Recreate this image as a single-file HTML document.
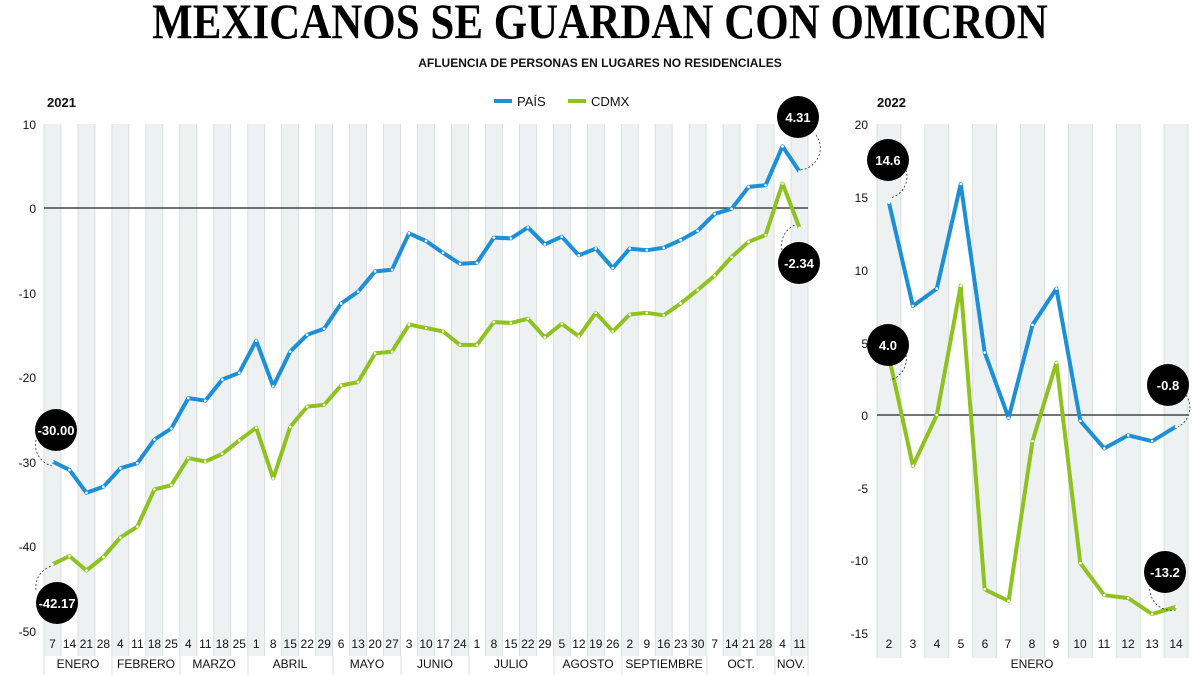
<!DOCTYPE html>
<html><head><meta charset="utf-8"><style>
body{margin:0;background:#fff;}
svg{display:block;font-family:"Liberation Sans",sans-serif;}
.t{font-size:12px;fill:#111;text-anchor:middle}
.y{font-size:12px;fill:#111;text-anchor:end}
.m{font-size:12px;fill:#111;text-anchor:middle}
.c{font-size:13px;font-weight:bold;fill:#fff;text-anchor:middle}
</style></head><body>
<svg id="s" width="1200" height="675" viewBox="0 0 1200 675">
<g id="bg"></g>
<text x="600" y="38" text-anchor="middle" font-family="Liberation Serif,serif" font-weight="bold" font-size="50" transform="translate(600,0) scale(0.86,1) translate(-600,0)" fill="#000">MEXICANOS SE GUARDAN CON OMICRON</text>
<text x="600" y="67" text-anchor="middle" font-size="12" font-weight="bold" fill="#111">AFLUENCIA DE PERSONAS EN LUGARES NO RESIDENCIALES</text>
<text x="47" y="107" font-size="13" font-weight="bold" fill="#111">2021</text>
<text x="877" y="107" font-size="13" font-weight="bold" fill="#111">2022</text>
<line x1="494" y1="101" x2="512" y2="101" stroke="#1b8fd8" stroke-width="4"/>
<text x="517" y="106" font-size="13" fill="#111">PAÍS</text>
<line x1="568" y1="101" x2="586" y2="101" stroke="#8dc21f" stroke-width="4"/>
<text x="591" y="106" font-size="13" fill="#111">CDMX</text>
<text class="y" x="36" y="129">10</text>
<text class="y" x="36" y="213">0</text>
<text class="y" x="36" y="298">-10</text>
<text class="y" x="36" y="382">-20</text>
<text class="y" x="36" y="467">-30</text>
<text class="y" x="36" y="551">-40</text>
<text class="y" x="36" y="636">-50</text>
<text class="y" x="868" y="129">20</text>
<text class="y" x="868" y="202">15</text>
<text class="y" x="868" y="275">10</text>
<text class="y" x="868" y="348">5</text>
<text class="y" x="868" y="420">0</text>
<text class="y" x="868" y="493">-5</text>
<text class="y" x="868" y="565">-10</text>
<text class="y" x="868" y="638">-15</text>
<g id="days">
<text class="t" x="52.5" y="648">7</text><text class="t" x="69.5" y="648">14</text><text class="t" x="86.4" y="648">21</text><text class="t" x="103.4" y="648">28</text>
<text class="t" x="120.4" y="648">4</text><text class="t" x="137.4" y="648">11</text><text class="t" x="154.4" y="648">18</text><text class="t" x="171.3" y="648">25</text>
<text class="t" x="188.3" y="648">4</text><text class="t" x="205.3" y="648">11</text><text class="t" x="222.3" y="648">18</text><text class="t" x="239.3" y="648">25</text>
<text class="t" x="256.2" y="648">1</text><text class="t" x="273.2" y="648">8</text><text class="t" x="290.2" y="648">15</text><text class="t" x="307.2" y="648">22</text><text class="t" x="324.2" y="648">29</text>
<text class="t" x="341.1" y="648">6</text><text class="t" x="358.1" y="648">13</text><text class="t" x="375.1" y="648">20</text><text class="t" x="392.1" y="648">27</text>
<text class="t" x="409.1" y="648">3</text><text class="t" x="426" y="648">10</text><text class="t" x="443" y="648">17</text><text class="t" x="460" y="648">24</text>
<text class="t" x="477" y="648">1</text><text class="t" x="494" y="648">8</text><text class="t" x="510.9" y="648">15</text><text class="t" x="527.9" y="648">22</text><text class="t" x="544.9" y="648">29</text>
<text class="t" x="561.9" y="648">5</text><text class="t" x="578.9" y="648">12</text><text class="t" x="595.8" y="648">19</text><text class="t" x="612.8" y="648">26</text>
<text class="t" x="629.8" y="648">2</text><text class="t" x="646.8" y="648">9</text><text class="t" x="663.8" y="648">16</text><text class="t" x="680.7" y="648">23</text><text class="t" x="697.7" y="648">30</text>
<text class="t" x="714.7" y="648">7</text><text class="t" x="731.7" y="648">14</text><text class="t" x="748.7" y="648">21</text><text class="t" x="765.6" y="648">28</text>
<text class="t" x="782.6" y="648">4</text><text class="t" x="799.6" y="648">11</text>
<text class="t" x="889" y="648">2</text><text class="t" x="913" y="648">3</text><text class="t" x="937" y="648">4</text><text class="t" x="961" y="648">5</text><text class="t" x="985" y="648">6</text><text class="t" x="1008" y="648">7</text><text class="t" x="1032" y="648">8</text><text class="t" x="1056" y="648">9</text><text class="t" x="1080" y="648">10</text><text class="t" x="1104" y="648">11</text><text class="t" x="1128" y="648">12</text><text class="t" x="1152" y="648">13</text><text class="t" x="1176" y="648">14</text>
</g>
<text class="m" x="78" y="668">ENERO</text><text class="m" x="146" y="668">FEBRERO</text><text class="m" x="214" y="668">MARZO</text><text class="m" x="290" y="668">ABRIL</text><text class="m" x="367" y="668">MAYO</text><text class="m" x="435" y="668">JUNIO</text><text class="m" x="511" y="668">JULIO</text><text class="m" x="588" y="668">AGOSTO</text><text class="m" x="664" y="668">SEPTIEMBRE</text><text class="m" x="741" y="668">OCT.</text><text class="m" x="791" y="668">NOV.</text>
<text class="m" x="1032" y="668">ENERO</text>
<g id="lines"></g>
<g id="call">
<circle cx="56" cy="430" r="21" fill="#000"/><text class="c" x="56" y="435">-30.00</text>
<circle cx="57" cy="603" r="21" fill="#000"/><text class="c" x="57" y="608">-42.17</text>
<circle cx="798" cy="117" r="21" fill="#000"/><text class="c" x="798" y="122">4.31</text>
<circle cx="799" cy="263" r="21" fill="#000"/><text class="c" x="799" y="268">-2.34</text>
<circle cx="888" cy="160" r="21" fill="#000"/><text class="c" x="888" y="165">14.6</text>
<circle cx="888" cy="345" r="21" fill="#000"/><text class="c" x="888" y="350">4.0</text>
<circle cx="1168" cy="385" r="21" fill="#000"/><text class="c" x="1168" y="390">-0.8</text>
<circle cx="1165" cy="572" r="21" fill="#000"/><text class="c" x="1165" y="577">-13.2</text>
</g>
<g fill="none" stroke="#333" stroke-width="0.8" stroke-dasharray="2,2">
<path d="M36,440 A22,22 0 0 0 52,466"/>
<path d="M36,590 A22,22 0 0 1 52,566"/>
<path d="M816,135 A22,22 0 0 1 800,170"/>
<path d="M782,250 A22,22 0 0 1 795,225"/>
<path d="M906,170 A22,22 0 0 1 890,198"/>
<path d="M906,355 A22,22 0 0 1 890,380"/>
<path d="M1186,395 A22,22 0 0 1 1178,427"/>
<path d="M1150,585 A22,22 0 0 0 1176,610"/>
</g>
</svg>
<script>
var NS="http://www.w3.org/2000/svg",bg=document.getElementById('bg'),ln=document.getElementById('lines');
function el(p,t,a){var e=document.createElementNS(NS,t);for(var k in a)e.setAttribute(k,a[k]);p.appendChild(e);return e;}
function chart(x0,x1,n,yTop,yBot,yFn,ticks,zero,A,B){
 var w=(x1-x0)/n;
 for(var i=0;i<n;i++){el(bg,'rect',{x:x0+i*w,y:yTop,width:w,height:yBot-yTop+26,fill:i%2==0?'#eef1f2':'#fff'});
  el(bg,'line',{x1:x0+i*w,y1:yTop,x2:x0+i*w,y2:yBot+26,stroke:'#d5d9db','stroke-width':0.8});}
 el(bg,'line',{x1:x1,y1:yTop,x2:x1,y2:yBot+26,stroke:'#d5d9db','stroke-width':0.8});
 el(bg,'line',{x1:x0,y1:zero,x2:x1,y2:zero,stroke:'#222','stroke-width':1.2});
 [[A,'#1b8fd8'],[B,'#8dc21f']].forEach(function(s){
  var d='';s[0].forEach(function(v,i){d+=(i?'L':'M')+(x0+w*(i+.5)).toFixed(1)+','+yFn(v).toFixed(1);});
  el(ln,'path',{d:d,fill:'none',stroke:s[1],'stroke-width':4,'stroke-linejoin':'round'});
  s[0].forEach(function(v,i){el(ln,'circle',{cx:x0+w*(i+.5),cy:yFn(v),r:1.3,fill:'#fff'});});
 });
}
var LP=[-30,-31,-33.7,-33,-30.8,-30.2,-27.4,-26.1,-22.5,-22.8,-20.3,-19.5,-15.7,-21.1,-17,-15,-14.3,-11.3,-9.9,-7.5,-7.3,-3,-3.9,-5.3,-6.6,-6.5,-3.5,-3.6,-2.3,-4.3,-3.4,-5.6,-4.8,-7.1,-4.8,-5,-4.7,-3.8,-2.7,-0.7,-0.1,2.5,2.7,7.3,4.31];
var LC=[-42.17,-41.2,-42.9,-41.3,-39,-37.7,-33.3,-32.8,-29.6,-30,-29.1,-27.5,-26,-32,-25.9,-23.5,-23.3,-21,-20.6,-17.2,-17,-13.8,-14.2,-14.6,-16.2,-16.2,-13.5,-13.6,-13.1,-15.3,-13.7,-15.2,-12.4,-14.6,-12.6,-12.4,-12.7,-11.3,-9.7,-8,-5.8,-4,-3.2,2.9,-2.34];
chart(44,808,45,124,630,function(v){return 208-v*8.45;},0,208,LP,LC);
var RP=[14.6,7.5,8.7,15.9,4.3,-0.2,6.2,8.7,-0.4,-2.3,-1.4,-1.8,-0.8];
var RC=[4.0,-3.5,0,8.9,-12,-12.8,-1.8,3.6,-10.2,-12.4,-12.6,-13.7,-13.2];
chart(877,1188,13,124,632,function(v){return 415-v*14.53;},0,415,RP,RC);
[44,112,180,248,333,401,469,554,622,707,775,808].forEach(function(x){el(bg,'line',{x1:x,y1:656,x2:x,y2:675,stroke:'#d5d9db','stroke-width':0.8});});
</script>
</body></html>
